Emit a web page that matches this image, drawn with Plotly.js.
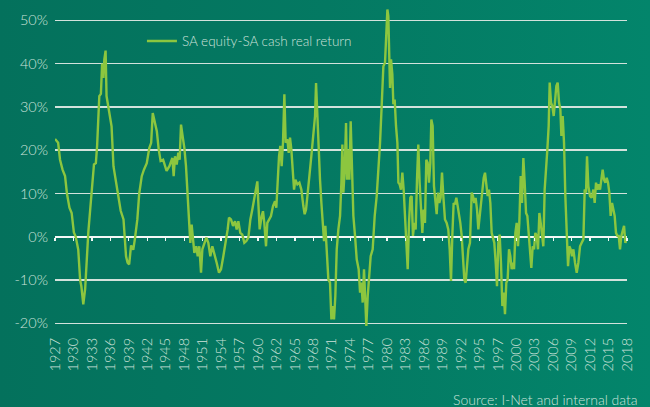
<!DOCTYPE html>
<html>
<head>
<meta charset="utf-8">
<script src="https://cdn.plot.ly/plotly-3.0.1.min.js"></script>
<style>
  html, body { margin: 0; padding: 0; }
  body { width: 650px; height: 407px; background: linear-gradient(90deg, #04715c 0%, #047962 50%, #03856b 100%); }
  #chart { width: 650px; height: 407px; }
</style>
</head>
<body>
<div id="chart"></div>
<script>
// Decimal years
const years = [
  1927.0,1927.27,1927.5,1927.8,1928.2,1928.6,1928.9,1929.3,1929.65,1930.0,1930.3,1930.7,1931.0,1931.2,1931.5,1931.8,1932.0,1932.3,1932.6,1933.0,
  1933.2,1933.5,1933.7,1934.05,1934.3,1934.5,1934.7,1934.85,1935.05,1935.2,1935.6,1936.0,1936.3,1936.7,1937.1,1937.45,1937.9,1938.3,1938.55,1938.8,
  1939.1,1939.45,1939.7,1940.1,1940.4,1940.8,1941.15,1941.6,1942.0,1942.3,1942.55,1942.9,1943.2,1943.5,1943.8,1944.2,1944.5,1944.75,1945.2,
  1945.67,1945.88,1946.09,1946.36,1946.62,1946.83,1947.05,1947.31,1947.58,1947.84,1948.11,1948.32,1948.53,1948.74,1948.95,1949.17,1949.48,1949.70,1949.96,1950.23,
  1950.44,1950.76,1951.08,1951.39,1951.71,1952.03,1952.35,1952.72,1953.09,1953.41,1953.78,1954.15,1954.47,1954.68,1955.0,1955.32,1955.64,1955.90,1956.17,1956.48,
  1956.80,1957.12,1957.44,1957.76,1958.08,1958.39,1958.71,1958.92,1959.19,1959.35,1959.56,1959.88,1960.09,1960.30,1960.57,1960.78,1961.05,1961.36,1961.68,1962.0,
  1962.21,1962.42,1962.64,1962.85,1963.06,1963.27,
  1963.49,1963.70,1963.97,1964.18,1964.39,1964.60,1964.82,1965.03,1965.24,1965.56,1965.88,1966.19,1966.51,1966.72,1966.94,1967.15,1967.47,1967.78,1968.10,1968.37,
  1968.53,1968.74,1968.95,1969.16,1969.38,1969.59,1969.80,1970.01,1970.22,1970.49,1970.75,1970.97,1971.18,1971.39,1971.60,1971.82,1972.08,1972.35,1972.56,1972.72,
  1972.88,1973.09,1973.30,1973.46,1973.67,1973.83,1974.04,1974.25,1974.47,1974.73,1975.0,1975.31,1975.53,1975.74,1975.95,1976.16,1976.38,1976.53,1976.75,1977.01,
  1977.22,1977.54,1977.86,1978.18,1978.50,1978.71,1978.97,1979.24,1979.50,1979.66,1979.88,1980.03,1980.30,1980.46,1980.67,1980.83,1981.04,1981.25,1981.47,1981.63,
  1981.83,1982.04,1982.26,1982.47,1982.68,1982.89,1983.11,1983.32,1983.53,1983.74,1983.95,1984.17,1984.38,1984.59,1984.80,1985.01,1985.23,1985.44,1985.65,1985.86,
  1986.07,1986.29,1986.50,1986.71,1986.87,1987.08,1987.29,1987.51,1987.72,1987.93,1988.14,1988.35,1988.57,1988.78,1989.04,1989.31,1989.57,1989.79,1990.0,1990.21,
  1990.42,1990.64,1990.85,1991.06,1991.27,1991.48,1991.70,1991.91,1992.12,1992.33,1992.54,1992.76,1993.02,1993.29,1993.50,1993.71,1993.92,1994.14,1994.35,1994.56,
  1994.77,1994.98,1995.20,1995.41,1995.62,1995.83,1996.04,1996.26,1996.47,1996.68,1996.89,1997.11,1997.32,1997.53,1997.74,1997.95,1998.17,1998.38,1998.59,1998.80,
  1999.01,1999.23,1999.44,1999.65,1999.91,
  2000.03,2000.24,2000.45,2000.66,2000.87,2001.09,2001.30,2001.51,2001.72,2001.94,2002.15,2002.36,2002.57,2002.78,2003.00,2003.21,2003.42,2003.63,2003.84,2004.06,
  2004.27,2004.48,2004.69,2004.90,2005.12,2005.33,2005.54,2005.70,2005.91,2006.12,2006.34,2006.55,2006.76,2006.97,2007.19,2007.40,2007.56,2007.77,2007.98,2008.19,
  2008.41,2008.62,2008.83,2009.04,2009.25,2009.47,2009.73,2010.0,2010.26,2010.53,2010.79,2011.06,2011.27,2011.48,2011.64,2011.85,2012.12,2012.38,2012.65,2012.86,
  2013.07,2013.28,2013.50,2013.71,2013.92,2014.13,2014.34,2014.56,2014.77,2014.98,2015.19,2015.40,2015.62,2015.83,2016.04,2016.25,2016.47,2016.68,2016.89,2017.10,
  2017.31,2017.53,2017.74,2017.95
];

// SA equity minus SA cash real return, %
const realReturn = [
  22.6,22,21.7,17.8,15.5,14,10,6.7,5.5,1,0,-3,-10,-11.5,-15.6,-12,-6,1,6.3,14.8,
  16.7,17,21,32.5,33,40,36.7,41,43,32.5,29.4,25.5,16.3,12.8,10,6,4,-4.5,-6,-6.4,
  -2,-3,-0.6,4,10,14,15.5,17,20.5,21.7,28.6,26.3,24.4,20.2,17.5,17.8,16.3,15.2,16.3,
  18.2,14,18.6,16.7,19.4,17.8,25.9,23.2,20.5,16.3,10.2,4.8,-1.4,2.8,0.2,-3.7,-2.2,-4.5,-2.2,-8.3,
  -2.9,-1.4,-0.2,-1.4,-4.5,-2.2,-3.7,-6,-8.3,-7.5,-4.5,-1.4,1.7,4.4,4,2.5,3.6,1.7,3.6,0.9,
  0.5,-1.4,-1,-0.2,4,6.3,8.6,10.2,12.8,7.8,1.7,4.8,5.9,3.2,-2.2,3.2,4,4.8,7.1,8.2,
  6.7,14,18.6,21,16.3,21.7,
  32.9,21.7,22.5,19.4,22.9,20.2,14.8,10.9,13.2,12.1,12.5,10.9,7.1,5.2,6.3,10.2,14,18.6,24,27.9,
  35.5,27.9,18.6,13.2,7.8,3.2,-1,2.5,-4.5,-9.9,-10.6,-19.1,-16,-19.1,-13.7,-2.9,1.7,4.8,12.5,21.3,
  10.2,15.5,26.3,13.2,20.2,13.2,26.7,14,4.8,0.2,-5.2,-7.5,-12.9,-10.6,-15.2,-7.5,-14.5,-20.6,-13.7,-7.5,
  -4.5,-2.9,4.8,9.4,15.5,21.7,30.2,39.4,40.2,46.4,52.5,51,34.4,41,37.5,30.6,31.7,25.6,21.7,12.5,
  12.1,10.9,14.8,10.9,4.8,1.7,-7.5,3.2,9,9.4,0.2,3.2,1.7,13.2,21.3,12.5,6.3,0.9,6.3,3.2,
  17.8,17.1,12.5,17.1,27.1,25.6,11.7,8.6,5.2,10.2,7.8,9,14.8,9.4,4,3.2,1.7,-2.9,-10.2,0.2,
  7.8,7.5,9,7.1,5.5,3.2,0.2,-4.5,-9.9,-10.6,-7.5,-2.9,-1.4,10.2,9.4,7.8,9,6.3,1.7,4.8,
  6.3,10.2,13.6,14.8,12.5,9.4,10.9,7.8,0.9,-0.6,-1.4,-6,-11.4,-1.4,0.5,-6,-16,-12.9,-17.9,-10.6,
  -9.9,-2.9,-4.5,-7.5,-6,
  -7.5,0.9,3.2,-2.2,3.2,14,7.8,18.2,12.5,5.5,4.8,0.2,-2.9,-7.2,-2.2,-2.9,0.9,0.2,-2.9,5.5,
  3.2,0.2,-2.2,10.9,14.8,20.2,25.6,35.6,31,30.2,27.9,31,34.8,35.6,31,29.4,23.3,27.9,21.7,9.4,
  0.2,-6.8,-2.2,-2.9,-4.5,-2.9,-6,-8.3,-6,-2.2,-1.4,-0.6,10.9,10.2,18.6,11.7,9.4,9,10.9,7.8,
  12.5,10.9,12.1,10.9,13.2,15.5,13.2,12.5,13.6,12.5,10.2,4.8,7.8,6.3,4.8,0.9,0.2,0.2,-2.9,0.2,
  1.7,2.5,-1.4,-0.6
];

const tickLabels = ["1927","1930","1933","1936","1939","1942","1945","1948","1951","1954","1957","1960","1962","1965","1968","1971",
  "1974","1977","1980","1983","1986","1989","1992","1995","1997","2000","2003","2006","2009","2012","2015","2018"];
const yTicks = [-20,-10,0,10,20,30,40,50];

const xStart = 1927, xEnd = 2018;
const tickVals = tickLabels.map((_, i) => xStart + i * (xEnd - xStart) / (tickLabels.length - 1));
const yRange = [-22, 54];

const lightText = '#cde2da';
const fontFam = 'Lato, "Open Sans", sans-serif';

const traces = [
  {
    x: years, y: realReturn, type: 'scatter', mode: 'lines',
    name: 'SA equity-SA cash real return',
    line: { color: '#8cc63f', width: 2.4 },
    hoverinfo: 'skip'
  },
  { x: [], y: [], xaxis: 'x2', yaxis: 'y', type: 'scatter', mode: 'lines', showlegend: false, hoverinfo: 'skip' }
];

const layout = {
  width: 650, height: 407,
  paper_bgcolor: 'rgba(0,0,0,0)', plot_bgcolor: 'rgba(0,0,0,0)',
  margin: { l: 55, r: 23, t: 3, b: 75 },
  font: { family: fontFam, color: lightText, weight: 300 },
  showlegend: true,
  legend: {
    x: 0.152, xanchor: 'left', y: 0.884, yanchor: 'middle',
    bgcolor: 'rgba(0,0,0,0)', borderwidth: 0,
    font: { family: fontFam, size: 13.5, color: lightText, weight: 300 },
    itemwidth: 30
  },
  xaxis: {
    range: [xStart, xEnd], tickmode: 'array', tickvals: tickVals, ticktext: tickLabels,
    tickangle: -90, tickfont: { family: fontFam, size: 14.5, color: lightText, weight: 300 },
    showgrid: false, zeroline: false, showline: false, ticks: '',
    ticklabelstandoff: 2, fixedrange: true
  },
  xaxis2: {
    overlaying: 'x', anchor: 'free', position: (0 - yRange[0]) / (yRange[1] - yRange[0]),
    range: [xStart, xEnd], tickmode: 'array', tickvals: tickVals,
    showticklabels: false, ticks: 'outside', ticklen: 3, tickwidth: 1.3, tickcolor: '#f2f7f5',
    showgrid: false, zeroline: false, showline: false, fixedrange: true
  },
  yaxis: {
    range: yRange, tickmode: 'array', tickvals: yTicks,
    ticktext: yTicks.map(v => v + '%'),
    tickfont: { family: fontFam, size: 14.5, color: lightText, weight: 300 },
    showgrid: true, gridcolor: '#d3e2dc', gridwidth: 1.5,
    zeroline: true, zerolinecolor: '#f4f8f6', zerolinewidth: 1.6,
    showline: false, ticks: '', ticklabelstandoff: 6, fixedrange: true
  },
  annotations: [
    {
      text: 'Source: I-Net and internal data', xref: 'paper', yref: 'paper',
      x: 1.0227, xanchor: 'right', y: -0.205, yanchor: 'middle', showarrow: false,
      font: { family: fontFam, size: 14, color: lightText, weight: 300 }
    }
  ]
};

Plotly.newPlot('chart', traces, layout, { displayModeBar: false, staticPlot: true });
</script>
</body>
</html>
